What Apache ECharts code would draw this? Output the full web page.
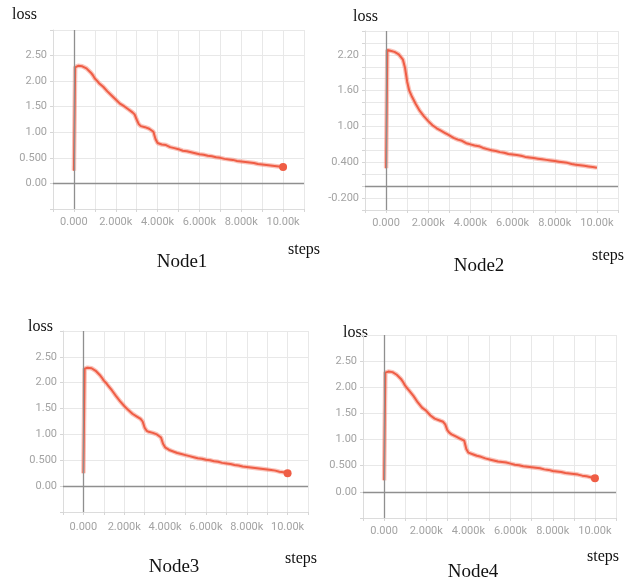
<!DOCTYPE html>
<html>
<head>
<meta charset="utf-8">
<title>Node loss curves</title>
<script src="https://cdn.jsdelivr.net/npm/echarts@6/dist/echarts.min.js"></script>
<style>
  html, body { margin: 0; padding: 0; background: #fff; }
  #chart { width: 639px; height: 580px; }
</style>
</head>
<body>
<div id="chart"></div>
<script>
// training steps shared by the four nodes
const steps = [0, 60, 200, 400, 600, 800, 900, 1000, 1100, 1200,
  1400, 1600, 1800, 2000, 2200, 2400, 2600, 2800, 2900, 3000,
  3100, 3200, 3400, 3600, 3800, 3900, 4000, 4200, 4400, 4600,
  4800, 5000, 5200, 5400, 5600, 5800, 6000, 6200, 6400, 6600,
  6800, 7000, 7200, 7400, 7600, 7800, 8000, 8200, 8400, 8600,
  8800, 9000, 9200, 9400, 9600, 9800, 10000];

const lossNode1 = [0.25, 2.27, 2.30, 2.29, 2.25, 2.17, 2.12, 2.05, 2.01, 1.96,
  1.89, 1.80, 1.72, 1.64, 1.56, 1.51, 1.45, 1.39, 1.35, 1.25,
  1.16, 1.12, 1.10, 1.07, 1.01, 0.87, 0.79, 0.76, 0.75, 0.71,
  0.69, 0.67, 0.64, 0.63, 0.61, 0.59, 0.57, 0.56, 0.54, 0.53,
  0.51, 0.50, 0.48, 0.47, 0.46, 0.44, 0.43, 0.42, 0.41, 0.40,
  0.38, 0.37, 0.36, 0.35, 0.34, 0.33, 0.32];

const lossNode2 = [0.30, 2.28, 2.27, 2.25, 2.21, 2.12, 1.98, 1.75, 1.60, 1.52,
  1.38, 1.26, 1.17, 1.09, 1.02, 0.97, 0.93, 0.89, 0.87, 0.85,
  0.83, 0.81, 0.78, 0.76, 0.72, 0.71, 0.70, 0.68, 0.67, 0.64,
  0.62, 0.60, 0.59, 0.57, 0.56, 0.54, 0.53, 0.52, 0.51, 0.49,
  0.48, 0.47, 0.46, 0.45, 0.44, 0.43, 0.42, 0.41, 0.40, 0.39,
  0.37, 0.36, 0.35, 0.34, 0.33, 0.32, 0.31];

const lossNode3 = [0.25, 2.27, 2.29, 2.28, 2.23, 2.15, 2.10, 2.04, 2.00, 1.95,
  1.85, 1.74, 1.64, 1.55, 1.47, 1.40, 1.35, 1.30, 1.25, 1.13,
  1.07, 1.05, 1.03, 1.00, 0.94, 0.82, 0.75, 0.70, 0.67, 0.64,
  0.62, 0.60, 0.58, 0.56, 0.54, 0.53, 0.51, 0.50, 0.48, 0.47,
  0.45, 0.44, 0.43, 0.41, 0.40, 0.38, 0.37, 0.36, 0.35, 0.34,
  0.33, 0.32, 0.31, 0.30, 0.28, 0.27, 0.25];

const lossNode4 = [0.22, 2.28, 2.30, 2.29, 2.24, 2.16, 2.10, 2.03, 1.98, 1.93,
  1.83, 1.71, 1.61, 1.55, 1.46, 1.40, 1.37, 1.34, 1.29, 1.18,
  1.13, 1.10, 1.06, 1.02, 0.98, 0.82, 0.75, 0.72, 0.69, 0.67,
  0.64, 0.62, 0.60, 0.58, 0.57, 0.56, 0.54, 0.52, 0.51, 0.49,
  0.48, 0.47, 0.46, 0.45, 0.43, 0.42, 0.40, 0.39, 0.38, 0.36,
  0.35, 0.34, 0.33, 0.31, 0.30, 0.28, 0.26];

// tick labels
const xTickValues = [0, 2000, 4000, 6000, 8000, 10000];
const xTickText = ["0.000", "2.000k", "4.000k", "6.000k", "8.000k", "10.00k"];
const yTickValuesA = [0, 0.5, 1, 1.5, 2, 2.5];
const yTickTextA = ["0.00", "0.500", "1.00", "1.50", "2.00", "2.50"];
const yTickValuesB = [-0.2, 0.4, 1.0, 1.6, 2.2];
const yTickTextB = ["-0.200", "0.400", "1.00", "1.60", "2.20"];

const nodeNames = ["Node1", "Node2", "Node3", "Node4"];

const LINE = "#ef5d45";
const labelFont = "Roboto";
const serif = "'Liberation Serif', 'Times New Roman', serif";

const lookup = (vals, texts) => v => {
  const k = vals.findIndex(t => Math.abs(t - v) < 1e-6);
  return k >= 0 ? texts[k] : "";
};

const panels = [
  { loss: lossNode1, grid: { left: 53, top: 30, width: 251, height: 179 },
    yMin: -0.5, yMax: 3, yStep: 0.5, yFmt: lookup(yTickValuesA, yTickTextA), xGap: 8, dot: true,
    lossAt: [12, 15], stepsAt: [288, 250], nameAt: [182, 262] },
  { loss: lossNode2, grid: { left: 365, top: 31, width: 253, height: 179 },
    yMin: -0.4, yMax: 2.6, yStep: 0.2, yFmt: lookup(yTickValuesB, yTickTextB), xGap: 8, dot: false,
    lossAt: [353, 17], stepsAt: [592, 256], nameAt: [479, 266] },
  { loss: lossNode3, grid: { left: 63, top: 331, width: 245, height: 181 },
    yMin: -0.5, yMax: 3, yStep: 0.5, yFmt: lookup(yTickValuesA, yTickTextA), xGap: 10, dot: true,
    lossAt: [28, 327], stepsAt: [285, 559], nameAt: [174, 567] },
  { loss: lossNode4, grid: { left: 363, top: 335, width: 253, height: 183 },
    yMin: -0.5, yMax: 3, yStep: 0.5, yFmt: lookup(yTickValuesA, yTickTextA), xGap: 8, dot: true,
    lossAt: [343, 333], stepsAt: [587, 557], nameAt: [473, 572] }
];

const xFmt = lookup(xTickValues, xTickText);
const grids = [], xAxes = [], yAxes = [], series = [], texts = [];

panels.forEach((p, i) => {
  grids.push(p.grid);
  xAxes.push({
    gridIndex: i, type: "value", min: -1000, max: 11000, interval: 1000,
    axisLine: { show: true, onZero: false, lineStyle: { color: "#dcdcdc" } },
    axisTick: { show: true, length: 3, lineStyle: { color: "#d6d6d6" } },
    splitLine: { show: true, lineStyle: { color: "#e8e8e8" } },
    axisLabel: { color: "#a3a3a3", fontFamily: labelFont, fontSize: 11, margin: p.xGap,
      formatter: xFmt, showMinLabel: true, showMaxLabel: true }
  });
  yAxes.push({
    gridIndex: i, type: "value", min: p.yMin, max: p.yMax, interval: p.yStep,
    axisLine: { show: true, onZero: false, lineStyle: { color: "#dcdcdc" } },
    axisTick: { show: true, length: 3, lineStyle: { color: "#d6d6d6" } },
    splitLine: { show: true, lineStyle: { color: "#e8e8e8" } },
    axisLabel: { color: "#a3a3a3", fontFamily: labelFont, fontSize: 11, margin: 6,
      formatter: p.yFmt, showMinLabel: true, showMaxLabel: true }
  });

  const pts = steps.map((s, k) => [s, p.loss[k]]);
  const last = steps.length - 1;

  // soft halo under the curve, also carries the zero lines
  series.push({
    type: "line", xAxisIndex: i, yAxisIndex: i, data: pts, z: 2,
    showSymbol: false, silent: true,
    lineStyle: { color: "rgba(244,125,105,0.45)", width: 4.5 },
    markLine: {
      silent: true, symbol: "none", label: { show: false },
      lineStyle: { color: "#8f8f8f", width: 1.3, type: "solid" },
      data: [{ xAxis: 0 }, { yAxis: 0 }]
    }
  });
  series.push({
    type: "line", xAxisIndex: i, yAxisIndex: i, data: pts, z: 3,
    symbol: "circle", showSymbol: true, showAllSymbol: true,
    symbolSize: (v, prm) => (p.dot && prm.dataIndex === last ? 8 : 0),
    itemStyle: { color: LINE },
    lineStyle: { color: LINE, width: 2 }
  });

  const txt = (x, y, t, size, align) => ({
    type: "text", x, y,
    style: { text: t, font: `${size}px ${serif}`, fill: "#111",
      textAlign: align, textVerticalAlign: "middle", align, verticalAlign: "middle" }
  });
  texts.push(txt(p.lossAt[0], p.lossAt[1], "loss", 16, "left"));
  texts.push(txt(p.stepsAt[0], p.stepsAt[1], "steps", 16, "left"));
  texts.push(txt(p.nameAt[0], p.nameAt[1], nodeNames[i], 19, "center"));
});

const chart = echarts.init(document.getElementById("chart"));
chart.setOption({
  backgroundColor: "#fff",
  animation: false,
  grid: grids,
  xAxis: xAxes,
  yAxis: yAxes,
  series,
  graphic: { elements: texts }
});
</script>
</body>
</html>
